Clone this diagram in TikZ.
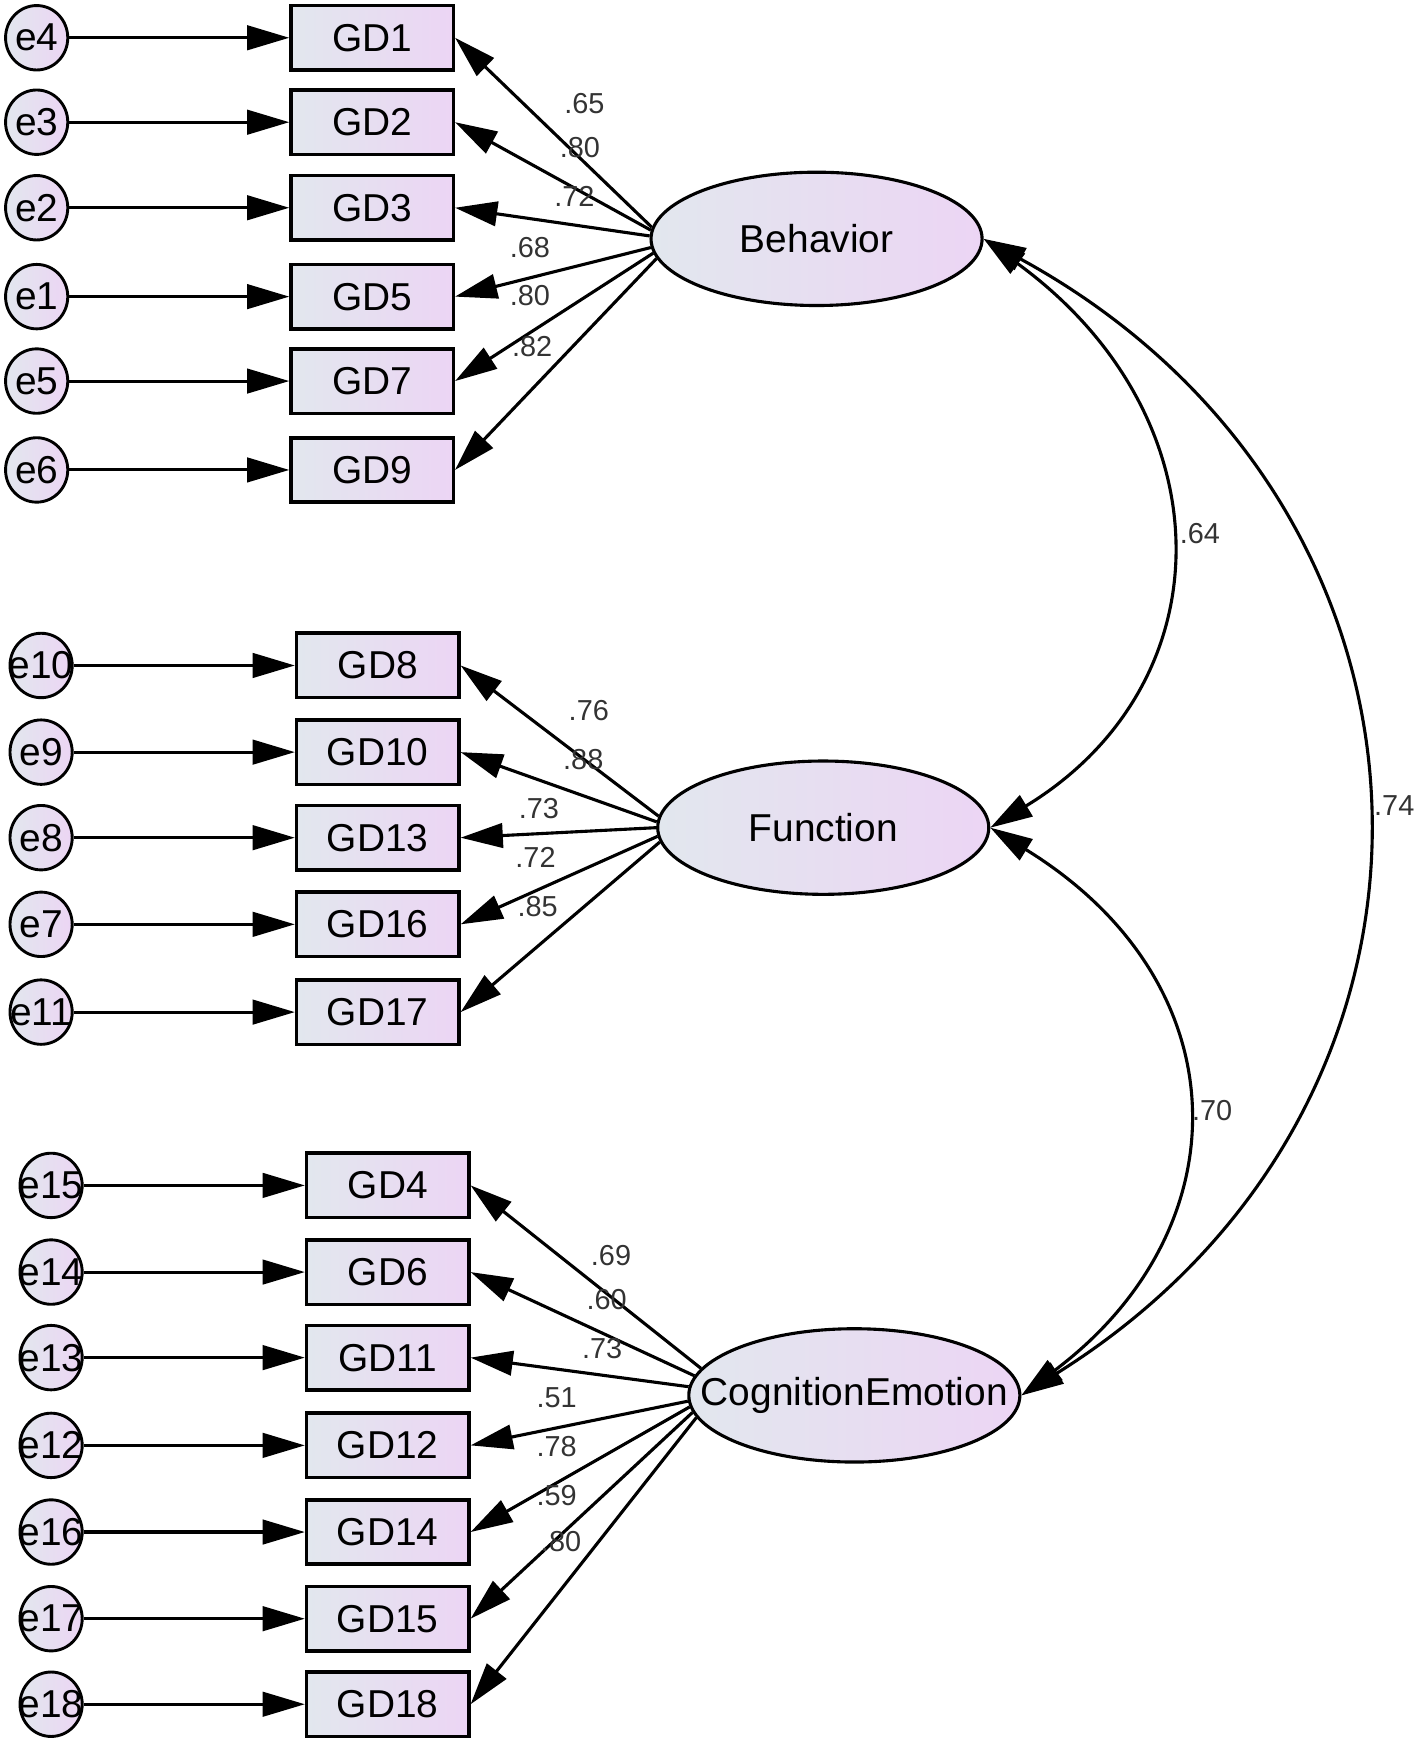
\documentclass[tikz,border=0pt]{standalone}
\usepackage{fontspec}
\setmainfont{Liberation Sans}
\usetikzlibrary{shapes.geometric,arrows.meta}
\definecolor{fillL}{RGB}{226,231,238}
\definecolor{fillR}{RGB}{236,213,244}
\begin{document}
\begin{tikzpicture}[x=0.5pt,y=-0.5pt,
  obs/.style={draw,line width=1.6pt,rectangle,minimum width=73pt,minimum height=29pt,inner sep=0pt,left color=fillL,right color=fillR,font=\fontsize{17.5}{20}\selectfont},
  err/.style={draw,line width=1.3pt,ellipse,minimum width=28pt,minimum height=29pt,inner sep=0pt,left color=fillL,right color=fillR,font=\fontsize{17.5}{20}\selectfont},
  lat/.style={draw,line width=1.4pt,ellipse,minimum width=149pt,minimum height=60pt,inner sep=0pt,left color=fillL,right color=fillR,font=\fontsize{17.5}{20}\selectfont},
  pth/.style={line width=1.4pt,-{Triangle[length=19pt,width=11pt]}},
  cov/.style={line width=1.4pt,{Triangle[length=19pt,width=11pt]}-{Triangle[length=19pt,width=11pt]}},
  lbl/.style={font=\fontsize{13}{14}\selectfont,inner sep=0pt,text=black!80}
]
\useasboundingbox (0,0) rectangle (1275,1568);

% latent variables
\node[lat] (B) at (735,215) {\makebox[0pt]{Behavior}};
\node[lat] (F) at (741,745) {\makebox[0pt]{Function}};
\node[lat] (C) at (769,1256) {\makebox[0pt]{CognitionEmotion}};

% Behavior group
\foreach \g/\e/\y in {GD1/e4/34, GD2/e3/110, GD3/e2/187, GD5/e1/267, GD7/e5/343, GD9/e6/423}{
  \node[obs] (\g) at (335,\y) {\g};
  \node[err] (\e) at (33,\y) {\makebox[0pt]{\e}};
  \draw[pth] (\e) -- (\g);
}
% Function group
\foreach \g/\e/\y in {GD8/e10/599, GD10/e9/677, GD13/e8/754, GD16/e7/832, GD17/e11/911}{
  \node[obs] (\g) at (340,\y) {\g};
  \node[err] (\e) at (37,\y) {\makebox[0pt]{\e}};
  \draw[pth] (\e) -- (\g);
}
% CognitionEmotion group
\foreach \g/\e/\y in {GD4/e15/1067, GD6/e14/1145, GD11/e13/1222, GD12/e12/1301, GD14/e16/1379, GD15/e17/1457, GD18/e18/1534}{
  \node[obs] (\g) at (349,\y) {\g};
  \node[err] (\e) at (46,\y) {\makebox[0pt]{\e}};
  \draw[pth] (\e) -- (\g);
}

% loadings
\foreach \a/\g in {176/GD1, 177/GD2, 179/GD3, 183/GD5, 185/GD7, 187/GD9}
  \draw[pth] (B.\a) -- (\g.east);
\foreach \a/\g in {176/GD8, 178/GD10, 180/GD13, 183/GD16, 185/GD17}
  \draw[pth] (F.\a) -- (\g.east);
\foreach \a/\g in {170/GD4, 173/GD6, 177/GD11, 182/GD12, 184/GD14, 186/GD15, 188/GD18}
  \draw[pth] (C.\a) -- (\g.east);

% loading labels
\node[lbl] (l1) at (526,93) {.65};
\node[lbl] (l2) at (522,133) {.80};
\node[lbl] (l3) at (517,177) {.72};
\node[lbl] (l4) at (477,223) {.68};
\node[lbl] (l5) at (477,266) {.80};
\node[lbl] (l6) at (479,312) {.82};
\node[lbl] (l7) at (530,640) {.76};
\node[lbl] (l8) at (525,684) {.88};
\node[lbl] (l9) at (485,728) {.73};
\node[lbl] (l10) at (482,772) {.72};
\node[lbl] (l11) at (484,816) {.85};
\node[lbl] (l12) at (550,1130) {.69};
\node[lbl] (l13) at (546,1170) {.60};
\node[lbl] (l14) at (542,1214) {.73};
\node[lbl] (l15) at (501,1258) {.51};
\node[lbl] (l16) at (501,1302) {.78};
\node[lbl] (l17) at (501,1346) {.59};
\node[lbl] (l18) at (505,1388) {.80};

% covariances
\draw[cov] (B.east) .. controls (1105,375) and (1105,615) .. (F.east);
\draw[cov] (F.east) .. controls (1119,885) and (1119,1106) .. (C.east);
\draw[cov] (B.east) .. controls (1325,455) and (1345,990) .. (C.east);
\node[lbl] (c1) at (1080,480) {.64};
\node[lbl] (c2) at (1091,1000) {.70};
\node[lbl] (c3) at (1255,725) {.74};
\end{tikzpicture}
\end{document}
